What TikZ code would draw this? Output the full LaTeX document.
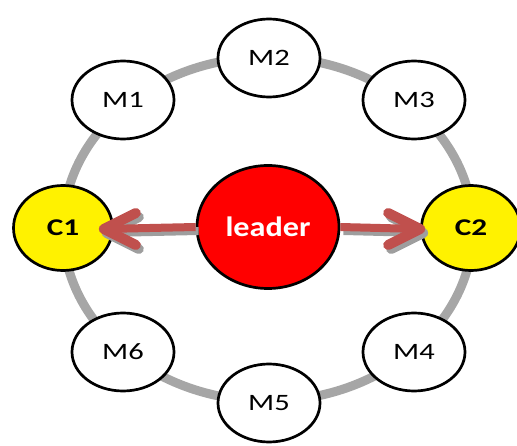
\documentclass[tikz,border=0pt]{standalone}
\usepackage{fontspec}
\setmainfont{Carlito}
\newfontfamily\mfont{Carlito}[FakeStretch=1.3]
\newfontfamily\lfont{Carlito}[FakeStretch=1.15]
\usetikzlibrary{shapes.geometric,calc}
\definecolor{ringgray}{HTML}{A6A6A6}
\definecolor{arrred}{HTML}{C0504D}
\tikzset{
  base/.style={ellipse,draw=black,line width=2.7pt,inner sep=0pt},
  member/.style={base,fill=white,minimum width=102pt,minimum height=78pt,font=\mfont\fontsize{23.5}{25}\selectfont},
  cand/.style={base,fill=yellow,minimum width=99pt,minimum height=85pt,font=\mfont\bfseries\fontsize{24}{26}\selectfont},
  lead/.style={base,fill=red,text=white,minimum width=142pt,minimum height=123pt,font=\lfont\bfseries\fontsize{28}{30}\selectfont},
  ring/.style={draw=ringgray,line width=9pt},
  shaft/.style={draw=arrred,line width=8pt},
  barb/.style={draw=arrred,line width=10pt,line cap=round,line join=round},
  shadowed/.style={draw=black!38}
}
\begin{document}
\begin{tikzpicture}[x=1pt,y=-1pt]
\useasboundingbox (0,0) rectangle (517,446);
\draw[ring] (268,229) ellipse [x radius=205, y radius=172];
\node[lead] (leader) at (268,227) {leader};
\node[cand] (C1) at (63,228) {C1};
\node[cand] (C2) at (471,228) {C2};
\node[member] (M1) at (123,100) {M1};
\node[member] (M2) at (269,58) {M2};
\node[member] (M3) at (414,100) {M3};
\node[member] (M4) at (414,352) {M4};
\node[member] (M5) at (269,403) {M5};
\node[member] (M6) at (123,352) {M6};
\coordinate (t1) at ($(C1.east)+(-10,1)$);
\coordinate (t2) at ($(C2.west)+(0,1)$);
\begin{scope}[transform canvas={shift={(3pt,-4pt)}}]
\draw[shaft,shadowed] (leader.west) -- (t1);
\draw[barb,shadowed] ($(t1)+(32,-16)$) -- (t1) -- ($(t1)+(32,16)$);
\draw[shaft,shadowed] (leader.east) -- (t2);
\draw[barb,shadowed] ($(t2)+(-32,-16)$) -- (t2) -- ($(t2)+(-32,16)$);
\end{scope}
\draw[shaft] (leader.west) -- (t1);
\draw[barb] ($(t1)+(32,-16)$) -- (t1) -- ($(t1)+(32,16)$);
\draw[shaft] (leader.east) -- (t2);
\draw[barb] ($(t2)+(-32,-16)$) -- (t2) -- ($(t2)+(-32,16)$);
\end{tikzpicture}
\end{document}
